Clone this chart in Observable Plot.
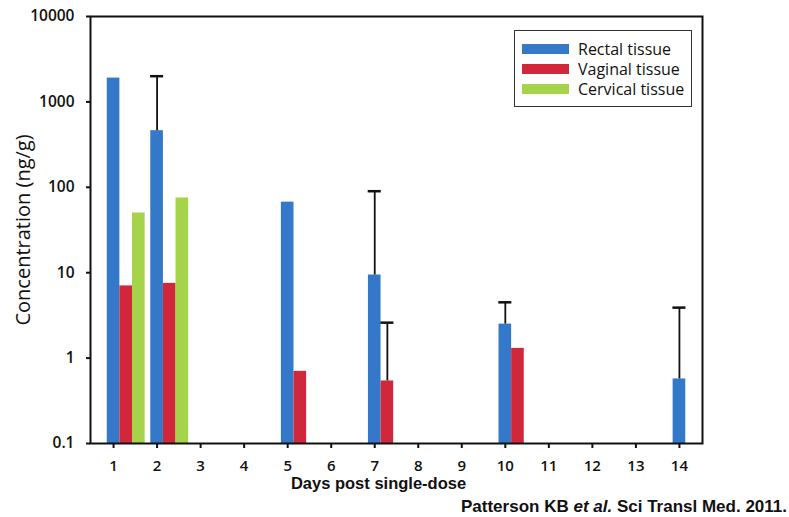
<!DOCTYPE html>
<html>
<head>
<meta charset="utf-8">
<script src="https://cdn.jsdelivr.net/npm/d3@7"></script>
<script src="https://cdn.jsdelivr.net/npm/@observablehq/plot@0.6"></script>
<style>
  html, body { margin: 0; padding: 0; background: #fff; }
  #wrap { position: relative; width: 789px; height: 517px; overflow: hidden; }
  #wrap svg { position: absolute; left: 0; top: 0; }
  [aria-label="x-axis tick label"] text, [aria-label="y-axis tick label"] text { font-weight: 600; }
  .legend { position: absolute; left: 514px; top: 30px; width: 178px; height: 77px; border: 1px solid #333; box-sizing: border-box; font-family: "Open Sans", sans-serif; font-size: 16px; color: #111; }
  .legend .item { position: absolute; left: 7px; height: 20px; display: flex; align-items: center; }
  .legend .sw { width: 47px; height: 10px; margin-right: 9px; }
  .caption { position: absolute; right: 2px; top: 497px; font-family: "Liberation Sans", Arial, sans-serif; font-weight: bold; font-size: 17px; line-height: 20px; color: #111; white-space: nowrap; }
</style>
</head>
<body>
<div id="wrap"></div>
<script>
// ---- data ----
const days = [1, 2, 3, 4, 5, 6, 7, 8, 9, 10, 11, 12, 13, 14];
const seriesNames = ["Rectal tissue", "Vaginal tissue", "Cervical tissue"];
const seriesColors = ["#3479c9", "#d0283a", "#a5d34a"];

const rectalDays = [1, 2, 5, 7, 10, 14];
const rectalValues = [1900, 460, 67, 9.4, 2.5, 0.57];
const rectalErrors = [null, 2000, null, 90, 4.5, 3.9];

const vaginalDays = [1, 2, 5, 7, 10];
const vaginalValues = [7, 7.5, 0.7, 0.54, 1.3];
const vaginalErrors = [null, null, null, 2.6, null];

const cervicalDays = [1, 2];
const cervicalValues = [50, 75];
const cervicalErrors = [null, null];

const yTicks = [0.1, 1, 10, 100, 1000, 10000];
const xLabel = "Days post single-dose";
const yLabel = "Concentration (ng/g)";

// ---- build table ----
const groups = [
  [rectalDays, rectalValues, rectalErrors],
  [vaginalDays, vaginalValues, vaginalErrors],
  [cervicalDays, cervicalValues, cervicalErrors]
];
const rows = [];
groups.forEach(([ds, vs, es], i) => {
  ds.forEach((d, j) => rows.push({day: d, value: vs[j], err: es[j], series: seriesNames[i], idx: i}));
});
const errRows = rows.filter(r => r.err != null);

const barW = 0.29, barStart = -0.145;
const left = r => r.day + barStart + r.idx * barW;
const center = r => left(r) + barW / 2;

const chart = Plot.plot({
  width: 789,
  height: 517,
  marginLeft: 90,
  marginRight: 87,
  marginTop: 16,
  marginBottom: 74,
  style: {fontFamily: "Open Sans, sans-serif", fontSize: "15px", color: "#111", background: "transparent"},
  x: {type: "linear", domain: [0.47, 14.53]},
  y: {type: "log", domain: [0.1, 10000]},
  color: {domain: seriesNames, range: seriesColors},
  marks: [
    Plot.rect(rows, {x1: left, x2: r => left(r) + barW, y1: () => 0.1, y2: "value", fill: "series"}),
    Plot.ruleX(errRows, {x: center, y1: "value", y2: "err", stroke: "#111", strokeWidth: 1.8}),
    Plot.ruleY(errRows, {y: "err", x1: r => center(r) - 0.15, x2: r => center(r) + 0.15, stroke: "#111", strokeWidth: 2.5}),
    Plot.axisX({ticks: days, tickFormat: d => String(d), tickSize: 5, tickPadding: 12, strokeWidth: 2, label: null, fontSize: 15}),
    Plot.axisY({ticks: yTicks, tickFormat: d => String(d), tickSize: 4, tickPadding: 12, strokeWidth: 2, label: null, fontSize: 15.5}),
    Plot.frame({stroke: "#111", strokeWidth: 2}),
    Plot.text([xLabel], {frameAnchor: "bottom", dy: 45, dx: -18, fontFamily: "Liberation Sans, Arial, sans-serif", fontWeight: "bold", fontSize: 16.5, fill: "#111"}),
    Plot.text([yLabel], {frameAnchor: "left", textAnchor: "middle", rotate: -90, dx: -67, fontFamily: "Open Sans, sans-serif", fontSize: 20, fill: "#111"})
  ]
});

const wrap = document.getElementById("wrap");
wrap.appendChild(chart);

// legend
const legend = document.createElement("div");
legend.className = "legend";
seriesNames.forEach((name, i) => {
  const item = document.createElement("div");
  item.className = "item";
  item.style.top = (8 + i * 20) + "px";
  const sw = document.createElement("span");
  sw.className = "sw";
  sw.style.background = seriesColors[i];
  const t = document.createElement("span");
  t.textContent = name;
  item.appendChild(sw);
  item.appendChild(t);
  legend.appendChild(item);
});
wrap.appendChild(legend);

// caption
const cap = document.createElement("div");
cap.className = "caption";
cap.innerHTML = "Patterson KB <i>et al.</i> Sci Transl Med. 2011.";
wrap.appendChild(cap);
</script>
</body>
</html>
